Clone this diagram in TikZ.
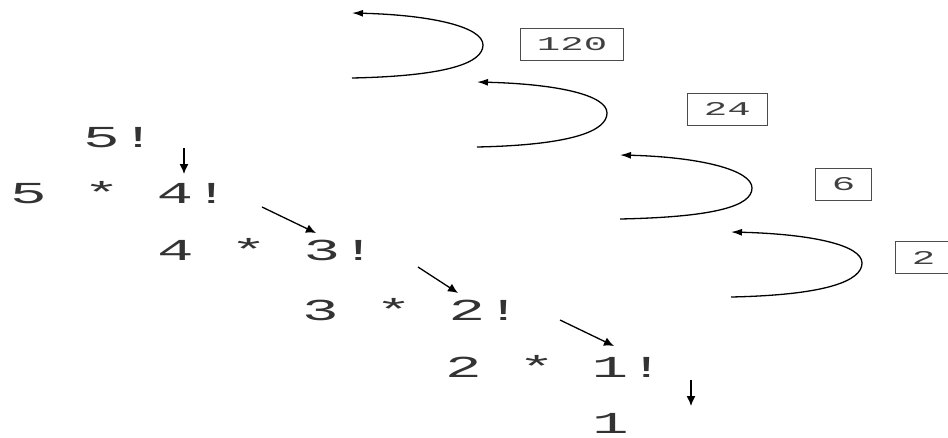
\documentclass[tikz,border=0pt]{standalone}
\usepackage{fontspec}
\newfontfamily\codefont[FakeStretch=2.0]{Liberation Mono}
\usetikzlibrary{positioning, arrows.meta}

\begin{document}
\begin{tikzpicture}[
    x=1pt, y=-1pt,
    expr/.style={
        anchor=base west,
        inner sep=0pt,
        text=black!80,
        font=\codefont\fontsize{30.5}{30.5}\selectfont
    },
    result/.style={
        draw=black!70,
        line width=0.9pt,
        anchor=west,
        text=black!75,
        inner xsep=16.5pt,
        inner ysep=0pt,
        minimum height=32pt,
        font=\codefont\fontsize{19.5}{19.5}\selectfont
    },
    arrow/.style={-{Latex[length=10pt,width=9pt]}, line width=1.3pt},
    back/.style={-{Latex[length=11pt,width=7pt]}, line width=1.3pt}
]
\clip (0,0) rectangle (948,437);

% the calls
\node[expr] (f5) at (83,147) {5!};
\node[expr] (r5) at (10,203) {5 * 4!};
\node[expr] (r4) at (157,260) {4 * 3!};
\node[expr] (r3) at (302,320) {3 * 2!};
\node[expr] (r2) at (445,377) {2 * 1!};
\node[expr] (r1) at (592,433) {1};

\coordinate (d1a) at (184,148);
\coordinate (d1b) at (184,174);
\coordinate (s1a) at (262,207);
\coordinate (s1b) at (316,233);
\coordinate (s2a) at (418,267);
\coordinate (s2b) at (458,293);
\coordinate (s3a) at (560,320);
\coordinate (s3b) at (614,346);
\coordinate (d2a) at (691,380);
\coordinate (d2b) at (691,406);

\draw[arrow] (d1a) -- (d1b);
\draw[arrow] (s1a) -- (s1b);
\draw[arrow] (s2a) -- (s2b);
\draw[arrow] (s3a) -- (s3b);
\draw[arrow] (d2a) -- (d2b);

% the returned values
\node[result] (v120) at (520,44) {120};
\node[result] (v24) at (687,109) {24};
\node[result] (v6) at (815,184) {6};
\node[result] (v2) at (895,257.5) {2};

\coordinate (b1a) at (352,78);  \coordinate (b1m) at (483,45);  \coordinate (b1b) at (352,13);
\coordinate (b2a) at (477,147); \coordinate (b2m) at (607,113); \coordinate (b2b) at (477,82);
\coordinate (b3a) at (620,219); \coordinate (b3m) at (752,188); \coordinate (b3b) at (620,155);
\coordinate (b4a) at (731,297); \coordinate (b4m) at (862,263); \coordinate (b4b) at (731,232);

\foreach \b in {b1, b2, b3, b4}
    \draw[back] (\b a) .. controls +(95,-2) and +(0,18) .. (\b m)
        .. controls +(0,-18) and +(80,2) .. (\b b);

\end{tikzpicture}
\end{document}
